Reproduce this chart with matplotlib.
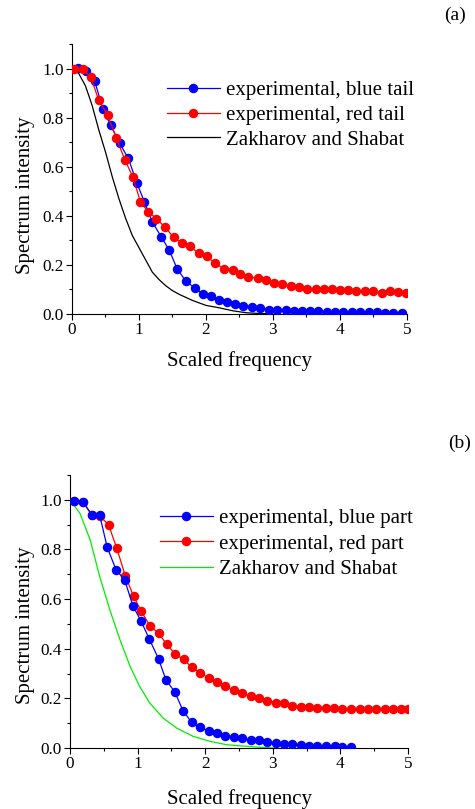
import numpy as np
import matplotlib
matplotlib.use("Agg")
import matplotlib.pyplot as plt
from matplotlib.ticker import MultipleLocator, FormatStrFormatter

plt.rcParams['font.family'] = ['Liberation Serif', 'DejaVu Serif']

# (a) experimental, blue tail
a_blue_x = [0.095, 0.21, 0.34, 0.46, 0.58, 0.71, 0.84, 0.97, 1.08, 1.20, 1.33, 1.45, 1.57, 1.70,
            1.83, 1.95, 2.07, 2.20, 2.32, 2.44, 2.56, 2.69, 2.81, 2.94, 3.06, 3.19, 3.31, 3.44,
            3.56, 3.68, 3.80, 3.93, 4.05, 4.18, 4.30, 4.43, 4.55, 4.68, 4.80, 4.93]
a_blue_y = [1.003, 0.99, 0.948, 0.836, 0.768, 0.696, 0.634, 0.533, 0.457, 0.375, 0.315, 0.261,
            0.184, 0.134, 0.106, 0.082, 0.075, 0.056, 0.048, 0.041, 0.034, 0.029, 0.023, 0.018,
            0.018, 0.015, 0.012, 0.011, 0.011, 0.011, 0.010, 0.010, 0.007, 0.007, 0.007, 0.007,
            0.007, 0.006, 0.006, 0.006]

# (a) experimental, red tail
a_red_x = [0.03, 0.16, 0.28, 0.40, 0.53, 0.66, 0.79, 0.91, 1.02, 1.14, 1.26, 1.39, 1.52, 1.64,
           1.76, 1.89, 2.01, 2.14, 2.27, 2.40, 2.51, 2.63, 2.77, 2.89, 3.01, 3.14, 3.27, 3.39,
           3.51, 3.64, 3.76, 3.88, 4.00, 4.12, 4.24, 4.37, 4.50, 4.63, 4.75, 4.86, 4.98]
a_red_y = [0.999, 0.997, 0.966, 0.870, 0.812, 0.718, 0.628, 0.557, 0.458, 0.416, 0.389, 0.353,
           0.312, 0.291, 0.276, 0.247, 0.235, 0.206, 0.184, 0.181, 0.162, 0.150, 0.147, 0.140,
           0.127, 0.121, 0.116, 0.111, 0.102, 0.100, 0.100, 0.101, 0.097, 0.097, 0.094, 0.094,
           0.094, 0.086, 0.093, 0.090, 0.086]

# (a) Zakharov and Shabat
a_zs_x = [0, 0.1, 0.2, 0.3, 0.4, 0.5, 0.6, 0.7, 0.8, 0.9, 1.0, 1.1, 1.2, 1.3, 1.4, 1.5, 1.6,
          1.8, 2.0, 2.2, 2.4, 2.6, 2.8, 3.0]
a_zs_y = [1.0, 0.98, 0.93, 0.85, 0.75, 0.66, 0.56, 0.47, 0.39, 0.32, 0.27, 0.22, 0.17, 0.14,
          0.115, 0.095, 0.08, 0.055, 0.035, 0.025, 0.013, 0.005, 0.002, 0.0]

# (b) experimental, blue part
b_blue_x = [0.06, 0.19, 0.32, 0.44, 0.55, 0.68, 0.81, 0.93, 1.05, 1.17, 1.31, 1.42, 1.55, 1.67,
            1.80, 1.92, 2.05, 2.18, 2.30, 2.42, 2.55, 2.67, 2.80, 2.92, 3.04, 3.16, 3.29, 3.41,
            3.54, 3.66, 3.78, 3.92, 4.03, 4.16]
b_blue_y = [0.997, 0.993, 0.94, 0.937, 0.809, 0.719, 0.676, 0.573, 0.512, 0.441, 0.359, 0.274,
            0.226, 0.151, 0.103, 0.083, 0.068, 0.062, 0.047, 0.046, 0.039, 0.033, 0.032, 0.023,
            0.020, 0.016, 0.016, 0.011, 0.009, 0.009, 0.009, 0.009, 0.005, 0.005]

# (b) experimental, red part
b_red_x = [0.06, 0.19, 0.32, 0.44, 0.57, 0.69, 0.82, 0.94, 1.05, 1.18, 1.31, 1.43, 1.55, 1.68,
           1.80, 1.92, 2.05, 2.18, 2.30, 2.42, 2.55, 2.67, 2.79, 2.92, 3.04, 3.17, 3.29, 3.41,
           3.54, 3.66, 3.78, 3.91, 4.03, 4.16, 4.29, 4.41, 4.53, 4.66, 4.78, 4.90, 5.0]
b_red_y = [0.997, 0.993, 0.94, 0.935, 0.90, 0.806, 0.692, 0.612, 0.553, 0.493, 0.462, 0.418,
           0.380, 0.357, 0.325, 0.304, 0.282, 0.264, 0.250, 0.232, 0.221, 0.208, 0.202, 0.191,
           0.183, 0.181, 0.170, 0.167, 0.165, 0.163, 0.162, 0.162, 0.159, 0.159, 0.159, 0.159,
           0.159, 0.159, 0.159, 0.159, 0.159]

# (b) Zakharov and Shabat
b_zs_x = [0, 0.15, 0.3, 0.44, 0.59, 0.74, 0.89, 1.03, 1.18, 1.38, 1.58, 1.82, 2.07, 2.32,
          2.56, 2.81, 3.03]
b_zs_y = [1.0, 0.944, 0.837, 0.69, 0.556, 0.435, 0.328, 0.248, 0.181, 0.12, 0.08, 0.047,
          0.027, 0.013, 0.008, 0.003, 0.0]

BLUE = '#0000ff'
RED = '#ff0000'

fig = plt.figure(figsize=(4.75, 8.09), dpi=100)
ax1 = fig.add_axes([0.1516, 0.6119, 0.705, 0.3337])
ax2 = fig.add_axes([0.1474, 0.0754, 0.7116, 0.3374])


def style(ax, xpad, ylab_xy):
    ax.set_xlim(0, 5)
    ax.set_ylim(0, 1.1)
    ax.spines['top'].set_visible(False)
    ax.spines['right'].set_visible(False)
    ax.xaxis.set_major_locator(MultipleLocator(1))
    ax.xaxis.set_minor_locator(MultipleLocator(0.5))
    ax.yaxis.set_major_locator(MultipleLocator(0.2))
    ax.yaxis.set_minor_locator(MultipleLocator(0.1))
    ax.yaxis.set_major_formatter(FormatStrFormatter('%.1f'))
    ax.tick_params(which='major', direction='out', length=4, width=0.8, labelsize=12.4, pad=2)
    ax.tick_params(which='minor', direction='out', length=2.5, width=0.8)
    ax.set_xlabel('Scaled frequency', fontsize=15, labelpad=xpad)
    ax.set_ylabel('Spectrum intensity', fontsize=15)
    ax.yaxis.set_label_coords(*ylab_xy)


leg_kw = dict(loc='upper left', frameon=False, fontsize=15, handlelength=2.55,
              handletextpad=0.3, labelspacing=0.25, borderaxespad=0, borderpad=0)

# panel (a)
ax1.plot(a_blue_x, a_blue_y, '-o', color=BLUE, lw=0.9, ms=5.8, mec=BLUE,
         label='experimental, blue tail', zorder=3)
ax1.plot(a_red_x, a_red_y, '-o', color=RED, lw=0.9, ms=5.8, mec=RED,
         label='experimental, red tail', zorder=4)
ax1.plot(a_zs_x, a_zs_y, '-', color='black', lw=0.9, label='Zakharov and Shabat', zorder=2)
style(ax1, 9.2, (-0.110, 0.44))
ax1.legend(bbox_to_anchor=(0.283, 0.865), **leg_kw)

# panel (b)
ax2.plot(b_red_x, b_red_y, '-o', color=RED, lw=0.9, ms=5.8, mec=RED,
         label='experimental, red part', zorder=3)
ax2.plot(b_blue_x, b_blue_y, '-o', color=BLUE, lw=0.9, ms=5.8, mec=BLUE,
         label='experimental, blue part', zorder=4)
ax2.plot(b_zs_x, b_zs_y, '-', color='#00ee00', lw=0.9, label='Zakharov and Shabat', zorder=2)
style(ax2, 12, (-0.103, 0.45))
h, l = ax2.get_legend_handles_labels()
ax2.legend([h[1], h[0], h[2]], [l[1], l[0], l[2]], bbox_to_anchor=(0.265, 0.877),
           **dict(leg_kw, labelspacing=0.28))

fig.text(0.958, 0.981, '(a)', fontsize=14, ha='center', va='center')
fig.text(0.968, 0.452, '(b)', fontsize=14, ha='center', va='center')

fig.savefig('out.png', dpi=100)
